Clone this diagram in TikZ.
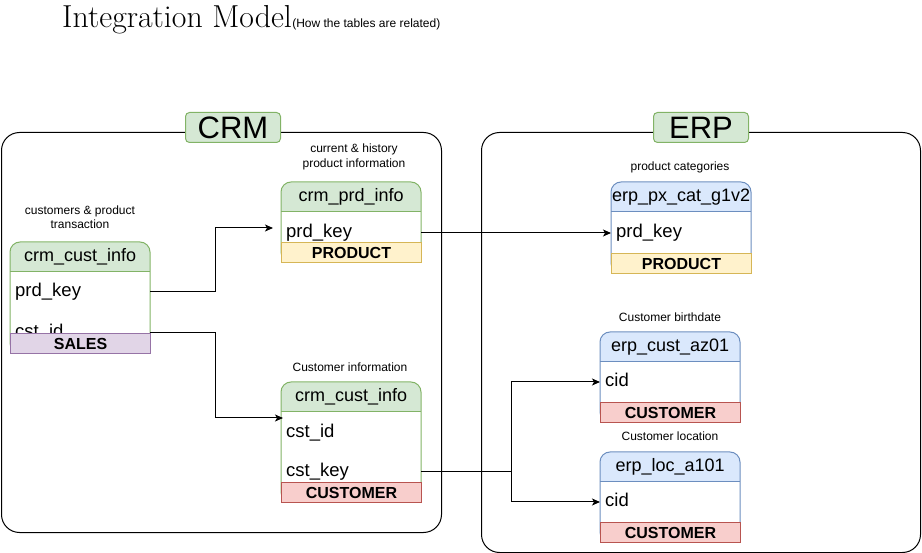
\documentclass[tikz,border=0pt]{standalone}
\usepackage{fontspec}
\newfontfamily\sansf{Liberation Sans}
\usetikzlibrary{arrows.meta}

\definecolor{gfill}{HTML}{D5E8D4}\definecolor{gline}{HTML}{82B366}
\definecolor{bfill}{HTML}{DAE8FC}\definecolor{bline}{HTML}{6C8EBF}
\definecolor{pfill}{HTML}{E1D5E7}\definecolor{pline}{HTML}{9673A6}
\definecolor{yfill}{HTML}{FFF2CC}\definecolor{yline}{HTML}{D6B656}
\definecolor{rfill}{HTML}{F8CECC}\definecolor{rline}{HTML}{B85450}

% one table: #1 name, #2 left x, #3 top y, #4 band top y, #5 fill, #6 line, #7 title
\newcommand{\tableframe}[7]{%
  \begin{scope}
    \clip[rounded corners=10] (#2,#3) rectangle ++(140,#4-#3+20);
    \fill[white] (#2,#3) rectangle ++(140,#4-#3+20);
    \fill[#5] (#2,#3) rectangle ++(140,30);
  \end{scope}
  \draw[#6, line width=1, rounded corners=10] (#2,#3) rectangle ++(140,#4-#3+20);
  \draw[#6, line width=1] (#2,#3+30) -- ++(140,0);
  \node[hdr, anchor=north west] (#1) at (#2,#3) {#7};
}

\tikzset{
  hdr/.style={minimum width=140, minimum height=30, inner sep=0,
    font=\sansf\fontsize{18}{20}\selectfont},
  fld/.style={text width=130, inner xsep=5, inner ysep=0, align=left,
    text height=13.2, text depth=3.9, anchor=west,
    font=\sansf\fontsize{18.5}{20}\selectfont},
  band/.style={minimum width=140, minimum height=20, inner sep=0, anchor=north west,
    line width=1, font=\sansf\bfseries\fontsize{16}{18}\selectfont},
  note/.style={align=center, inner sep=0,
    font=\sansf\fontsize{12}{14.5}\selectfont},
  sysframe/.style={draw=black, line width=1, rounded corners=18, inner sep=0},
  syslabel/.style={draw=gline, fill=gfill, line width=1, rounded corners=4,
    minimum width=95, minimum height=30, inner sep=0,
    font=\sansf\fontsize{31}{34}\selectfont},
  link/.style={draw, line width=1, -{Stealth[length=8, width=7, inset=2]}},
}

\begin{document}
\begin{tikzpicture}[x=1pt, y=-1pt]
\useasboundingbox (0,0) rectangle (922,553);

% heading
\node[anchor=base west, inner sep=0, font=\fontsize{31.8}{36}\selectfont] (title) at (62,28) {Integration Model};
\node[anchor=base west, inner sep=0, font=\sansf\fontsize{12}{14}\selectfont] (subtitle) at (title.base east) {(How the tables are related)};

% source system frames
\node[sysframe, minimum width=440, minimum height=400, anchor=north west] (crm) at (1,132) {};
\node[sysframe, minimum width=439, minimum height=420, anchor=north west] (erp) at (481,132) {};
\node[syslabel, anchor=north west] (crmlabel) at (185,112) {CRM};
\node[syslabel, anchor=north west] (erplabel) at (653,112) {ERP};

% CRM: sales details
\node[note] (n1) at (80,217) {customers \& product\\transaction};
\tableframe{t1}{10}{242}{333}{gfill}{gline}{crm\_cust\_info}
\node[fld] (t1prd) at (10,292) {prd\_key};
\node[fld] (t1cst) at (10,333) {cst\_id};
\node[band, draw=pline, fill=pfill] (t1band) at (10,333) {SALES};

% CRM: product info
\node[note] (n2) at (354,157) {current \& history\\product information};
\tableframe{t2}{281}{182}{242}{gfill}{gline}{crm\_prd\_info}
\node[fld] (t2prd) at (281,233) {prd\_key};
\node[band, draw=yline, fill=yfill] (t2band) at (281,242) {PRODUCT};

% CRM: customer info
\node[note] (n3) at (350,367) {Customer information};
\tableframe{t3}{281}{382}{482}{gfill}{gline}{crm\_cust\_info}
\node[fld] (t3id) at (281,433) {cst\_id};
\node[fld] (t3key) at (281,472) {cst\_key};
\node[band, draw=rline, fill=rfill] (t3band) at (281,482) {CUSTOMER};

% ERP: product categories
\node[note] (n4) at (680,167) {product categories};
\tableframe{t4}{611}{182}{253}{bfill}{bline}{erp\_px\_cat\_g1v2}
\node[fld] (t4prd) at (611,233) {prd\_key};
\node[band, draw=yline, fill=yfill] (t4band) at (611,253) {PRODUCT};

% ERP: customer birthdate
\node[note] (n5) at (670,317) {Customer birthdate};
\tableframe{t5}{600}{332}{402}{bfill}{bline}{erp\_cust\_az01}
\node[fld] (t5cid) at (600,382) {cid};
\node[band, draw=rline, fill=rfill] (t5band) at (600,402) {CUSTOMER};

% ERP: customer location
\node[note] (n6) at (670,436) {Customer location};
\tableframe{t6}{600}{452}{522}{bfill}{bline}{erp\_loc\_a101}
\node[fld] (t6cid) at (600,502) {cid};
\node[band, draw=rline, fill=rfill] (t6band) at (600,522) {CUSTOMER};

% relations
\coordinate (t2in) at (273,228);
\coordinate (t3in) at (283,418);
\draw[link] (t1prd.east) -- ++(65,0) |- (t2in);
\draw[link] (t1cst.east) -- ++(65,0) |- (t3in);
\draw[link] (t2prd.east) -- (t4prd.west);
\draw[link] (t3key.east) -- ++(90,0) |- (t5cid.west);
\draw[link] (t3key.east) -- ++(90,0) |- (t6cid.west);
\end{tikzpicture}
\end{document}
